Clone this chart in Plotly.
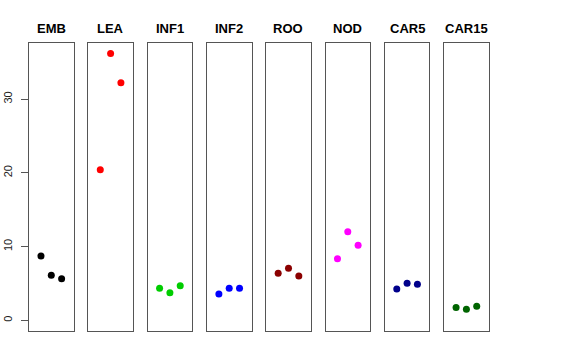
import plotly.graph_objects as go

tissues = ["EMB", "LEA", "INF1", "INF2", "ROO", "NOD", "CAR5", "CAR15"]
colors = ["#000000", "#FF0000", "#00CD00", "#0000FF", "#8B0000", "#FF00FF", "#00008B", "#006400"]
replicates = [1, 2, 3]
emb = [8.73, 6.10, 5.65]
lea = [20.42, 36.18, 32.20]
inf1 = [4.34, 3.75, 4.70]
inf2 = [3.57, 4.34, 4.34]
roo = [6.37, 7.05, 6.00]
nod = [8.36, 12.00, 10.16]
car5 = [4.25, 5.01, 4.88]
car15 = [1.72, 1.49, 1.90]
values = [emb, lea, inf1, inf2, roo, nod, car5, car15]
y_ticks = [0, 10, 20, 30]

W, H = 576, 360
ml, mr, mt, mb = 29, 87, 43, 29
pw = W - ml - mr
step, width = 59.3, 44.6

fig = go.Figure()
line_col = "#555555"
for i, (name, col, vals) in enumerate(zip(tissues, colors, values)):
    xa = "x" if i == 0 else f"x{i+1}"
    ya = "y" if i == 0 else f"y{i+1}"
    fig.add_trace(go.Scatter(x=replicates, y=vals, mode="markers", xaxis=xa, yaxis=ya,
                             marker=dict(color=col, size=7), showlegend=False, hoverinfo="y"))
    d0 = i * step / pw
    d1 = (i * step + width) / pw
    xkey = "xaxis" if i == 0 else f"xaxis{i+1}"
    ykey = "yaxis" if i == 0 else f"yaxis{i+1}"
    fig.layout[xkey] = dict(domain=[d0, d1], range=[-0.16, 4.16], showgrid=False, zeroline=False,
                            showticklabels=False, ticks="", showline=True, mirror=True,
                            linecolor=line_col, linewidth=1, anchor=ya, automargin=False)
    yd = dict(range=[-1.45, 37.6], showgrid=False, zeroline=False, showline=True, mirror=True,
              linecolor=line_col, linewidth=1, anchor=xa, domain=[0, 1], automargin=False)
    if i == 0:
        yd.update(tickvals=y_ticks, ticks="outside", ticklen=7, tickcolor=line_col,
                  tickangle=-90, ticklabelstandoff=5,
                  tickfont=dict(family="Liberation Sans, Arial", size=11, color="#222222"))
    else:
        yd.update(showticklabels=False, ticks="")
    fig.layout[ykey] = yd
    fig.add_annotation(x=(d0 + d1) / 2, y=1, xref="paper", yref="paper", text=f"<b>{name}</b>",
                       showarrow=False, xanchor="center", yanchor="bottom", yshift=5,
                       font=dict(family="Liberation Sans, Arial", size=13, color="#000000"))

fig.update_layout(width=W, height=H, margin=dict(l=ml, r=mr, t=mt, b=mb),
                  plot_bgcolor="white", paper_bgcolor="white")
fig.write_html("out.html", config={"displayModeBar": False},
               post_script="document.body.style.margin='0';")
